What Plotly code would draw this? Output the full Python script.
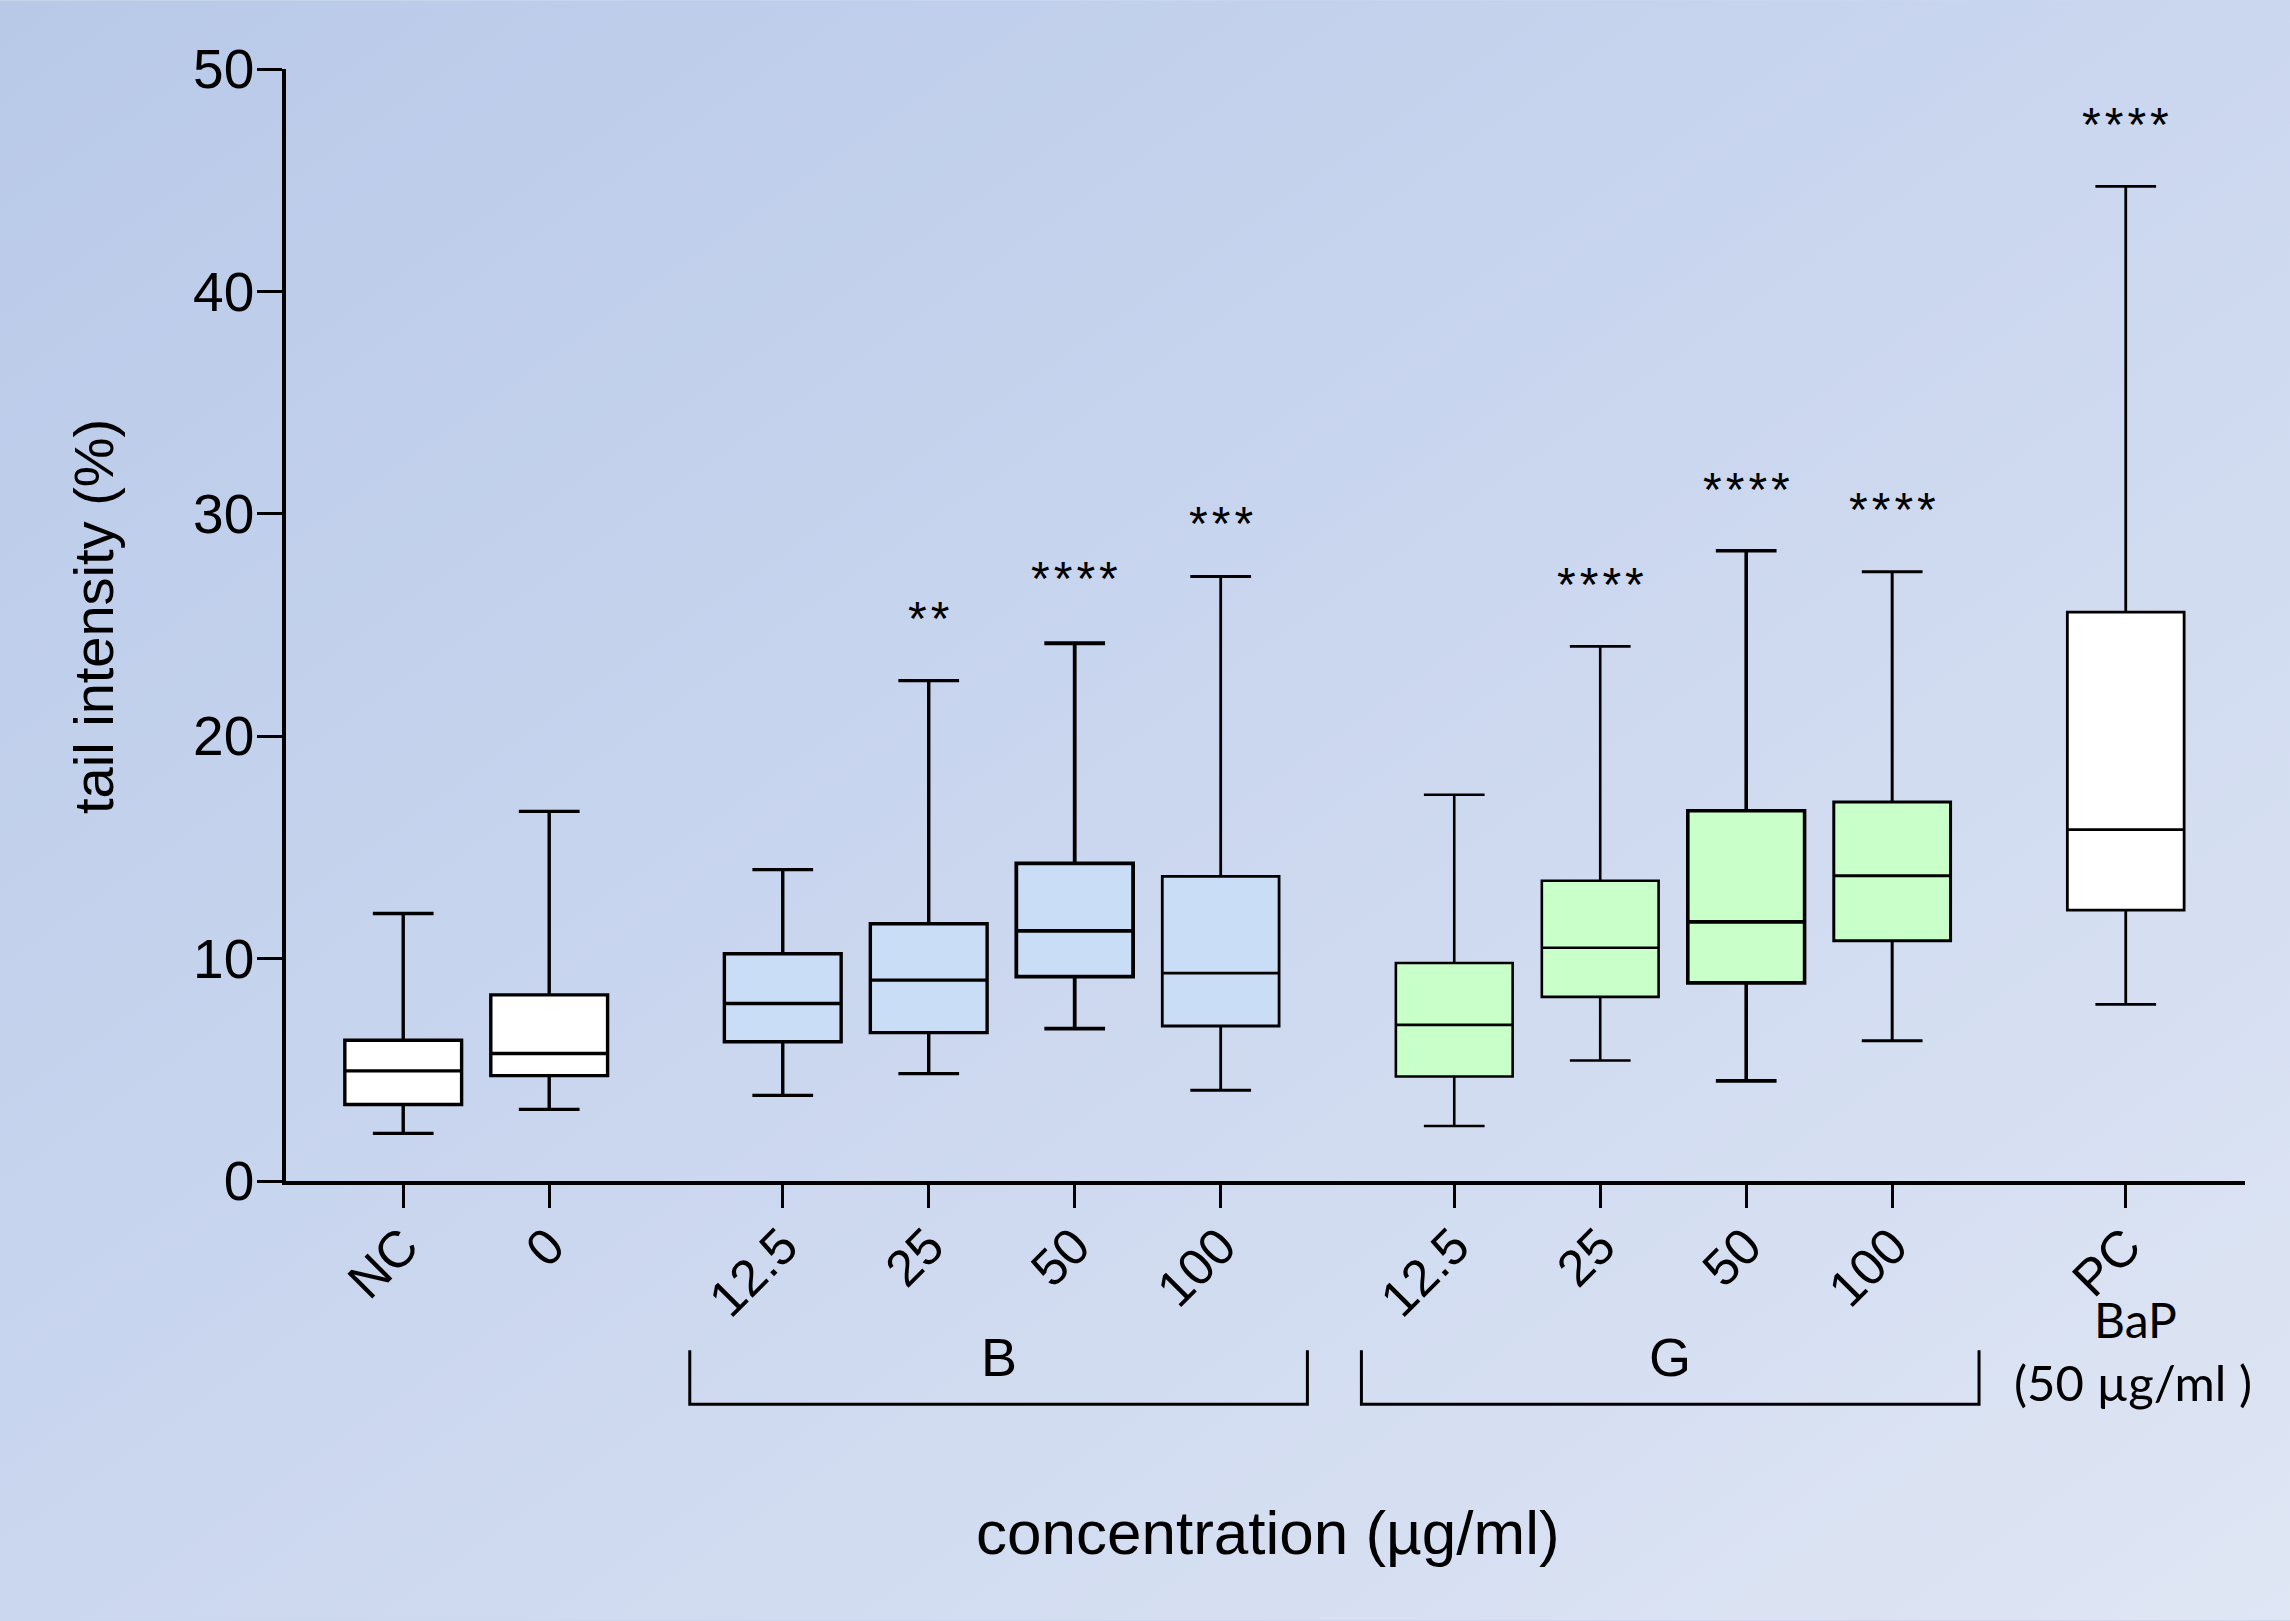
import base64
import plotly.graph_objects as go

# ---------------- data ----------------
labels = ["NC", "0", "12.5", "25", "50", "100", "12.5", "25", "50", "100", "PC"]
positions = [0, 1, 2.6, 3.6, 4.6, 5.6, 7.2, 8.2, 9.2, 10.2, 11.8]
groups = ["ctrl", "ctrl", "B", "B", "B", "B", "G", "G", "G", "G", "ctrl"]
lower_whisker = [2.14, 3.22, 3.85, 4.83, 6.85, 4.08, 2.47, 5.42, 4.50, 6.31, 7.94]
q1_values = [3.44, 4.74, 6.26, 6.67, 9.19, 6.97, 4.70, 8.28, 8.91, 10.80, 12.18]
median_values = [4.95, 5.73, 7.98, 9.03, 11.25, 9.35, 7.02, 10.49, 11.65, 13.73, 15.80]
q3_values = [6.33, 8.37, 10.22, 11.57, 14.28, 13.70, 9.80, 13.50, 16.65, 17.04, 25.58]
upper_whisker = [12.03, 16.62, 14.00, 22.50, 24.18, 27.18, 17.37, 24.04, 28.34, 27.39, 44.72]
significance = ["", "", "", "**", "****", "***", "", "****", "****", "****", "****"]
sig_y = [None, None, None, 25.3, 27.1, 29.55, None, 26.8, 31.1, 30.2, 47.5]
y_ticks = [0, 10, 20, 30, 40, 50]

group_fill = {"ctrl": "#ffffff", "B": "#c9ddf7", "G": "#c9ffc9"}
line_widths = [3.4, 3.4, 3.4, 3.4, 3.8, 2.8, 2.6, 2.6, 3.6, 3.0, 2.8]

# bracket spans (x in category units)
brackets = [("B", 1.963, 6.194), ("G", 6.564, 10.795)]

XMIN, XMAX = -0.803, 12.617
W, H = 2290, 1621
ML, MR, MT, MB = 286, 45, 68.6, 439.5
PW, PH = W - ML - MR, H - MT - MB

def px_to_paper_y(py):
    return (H - MB - py) / PH

def px_to_paper_x(px):
    return (px - ML) / PW

def unit_to_paper_x(u):
    return (u - XMIN) / (XMAX - XMIN)

FONT = "Arial, Liberation Sans, Helvetica, sans-serif"
CAL = "Lato, Open Sans, sans-serif"

fig = go.Figure()
for i in range(len(labels)):
    fig.add_trace(go.Box(
        x=[positions[i]],
        q1=[q1_values[i]], median=[median_values[i]], q3=[q3_values[i]],
        lowerfence=[lower_whisker[i]], upperfence=[upper_whisker[i]],
        width=0.8, whiskerwidth=0.52,
        fillcolor=group_fill[groups[i]],
        line=dict(color="black", width=line_widths[i]),
        boxpoints=False, hoverinfo="skip", showlegend=False,
    ))

annotations = []
for i, s in enumerate(significance):
    if s:
        annotations.append(dict(
            x=positions[i], y=sig_y[i], xref="x", yref="y",
            text="\u200a".join(list(s)), showarrow=False,
            font=dict(family=FONT, size=48, color="black"),
            xanchor="center", yanchor="middle",
        ))

shapes = []
for name, x0, x1 in brackets:
    px0, px1 = unit_to_paper_x(x0), unit_to_paper_x(x1)
    ytop, ybot = px_to_paper_y(1351), px_to_paper_y(1405)
    shapes.append(dict(
        type="path", xref="paper", yref="paper",
        path=f"M {px0} {ytop} L {px0} {ybot} L {px1} {ybot} L {px1} {ytop}",
        line=dict(color="black", width=3),
    ))
    annotations.append(dict(
        x=(x0 + x1) / 2, y=px_to_paper_y(1358), xref="x", yref="paper",
        text=name, showarrow=False,
        font=dict(family=FONT, size=54, color="black"),
        xanchor="center", yanchor="middle",
    ))

annotations += [
    dict(x=11.87, y=px_to_paper_y(1320), xref="x", yref="paper", text="BaP",
         showarrow=False, font=dict(family=CAL, size=48, color="black"),
         xanchor="center", yanchor="middle"),
    dict(x=11.85, y=px_to_paper_y(1383), xref="x", yref="paper", text="(50 µg/ml )",
         showarrow=False, font=dict(family=CAL, size=49, color="black"),
         xanchor="center", yanchor="middle"),
    dict(x=px_to_paper_x(1268), y=px_to_paper_y(1533), xref="paper", yref="paper",
         text="concentration (µg/ml)", showarrow=False,
         font=dict(family=FONT, size=62, color="black"),
         xanchor="center", yanchor="middle"),
    dict(x=px_to_paper_x(94), y=px_to_paper_y(617), xref="paper", yref="paper",
         text="tail intensity (%)", showarrow=False, textangle=-90,
         font=dict(family=FONT, size=56, color="black"),
         xanchor="center", yanchor="middle"),
]

svg = """<svg xmlns='http://www.w3.org/2000/svg' width='2290' height='1621' viewBox='0 0 2290 1621' preserveAspectRatio='none'>
<defs><linearGradient id='g' x1='0' y1='0' x2='1' y2='1'>
<stop offset='0' stop-color='#b8c9e8'/>
<stop offset='0.5' stop-color='#cbd7ef'/>
<stop offset='1' stop-color='#dfe6f4'/>
</linearGradient></defs>
<rect x='0' y='0' width='2290' height='1621' fill='url(#g)'/>
</svg>"""
bg_uri = "data:image/svg+xml;base64," + base64.b64encode(svg.encode()).decode()

fig.update_layout(
    width=W, height=H,
    margin=dict(l=ML, r=MR, t=MT, b=MB, pad=0),
    paper_bgcolor="#cbd7ef", plot_bgcolor="rgba(0,0,0,0)",
    boxmode="overlay", showlegend=False,
    font=dict(family=FONT, color="black"),
    images=[dict(source=bg_uri, xref="paper", yref="paper",
                 x=-ML / PW, y=1 + MT / PH, sizex=W / PW, sizey=H / PH,
                 xanchor="left", yanchor="top", sizing="stretch", layer="below")],
    shapes=shapes, annotations=annotations,
    xaxis=dict(range=[XMIN, XMAX], tickmode="array", tickvals=positions, ticktext=labels,
               tickangle=-45, ticks="outside", ticklen=23, tickwidth=3, tickcolor="black",
               showline=True, linewidth=3.5, linecolor="black", showgrid=False, zeroline=False,
               ticklabelstandoff=-12,
               tickfont=dict(family=FONT, size=51, color="black")),
    yaxis=dict(range=[0, 50], tickmode="array", tickvals=y_ticks, ticks="outside", ticklen=25,
               tickwidth=3, tickcolor="black", showline=True, linewidth=3.5, linecolor="black",
               showgrid=False, zeroline=False, ticklabelstandoff=-8,
               tickfont=dict(family=FONT, size=55, color="black")),
)

fig.write_html("out.html", config={"displayModeBar": False},
               post_script="document.body.style.margin='0';document.body.style.overflow='hidden';")
